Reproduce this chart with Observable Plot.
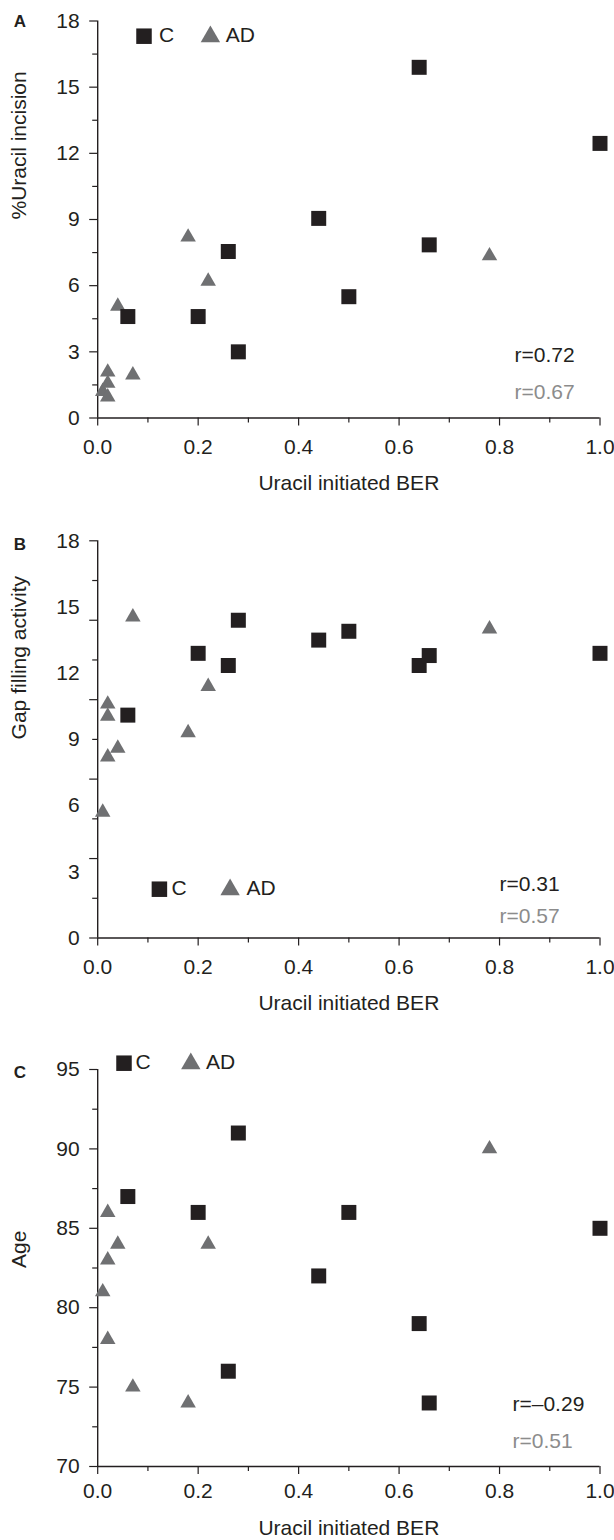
<!DOCTYPE html>
<html><head><meta charset="utf-8">
<script src="https://cdn.jsdelivr.net/npm/d3@7"></script>
<script src="https://cdn.jsdelivr.net/npm/@observablehq/plot@0.6"></script>
<style>
body{margin:0;background:#fff;}
#chart{width:614px;}
#chart svg{display:block;overflow:visible;}
</style></head><body><div id="chart"></div>
<script>
// ---- data ----
const adBER = [0.01, 0.02, 0.02, 0.02, 0.04, 0.07, 0.18, 0.22, 0.78];
const cBER  = [0.06, 0.20, 0.26, 0.28, 0.44, 0.50, 0.64, 0.66, 1.00];

const incisionAD = [1.2, 0.95, 1.57, 2.08, 5.07, 1.95, 8.2, 6.2, 7.35];
const incisionC  = [4.6, 4.6, 7.55, 3.0, 9.05, 5.5, 15.9, 7.85, 12.45];

const gapAD = [5.7, 8.2, 10.05, 10.6, 8.6, 14.55, 9.3, 11.4, 14.0];
const gapC  = [10.1, 12.9, 12.35, 14.4, 13.5, 13.9, 12.35, 12.8, 12.9];

const ageAD = [81, 78, 83, 86, 84, 75, 74, 84, 90];
const ageC  = [87, 86, 76, 91, 82, 86, 79, 74, 85];

const xDomain = [0, 1];
const xMajor = [0, 0.2, 0.4, 0.6, 0.8, 1.0];
const xMinor = [0.1, 0.3, 0.5, 0.7, 0.9];
const xTitle = "Uracil initiated BER";

const yDomainA = [0, 18];
const yLabelsA = [0, 3, 6, 9, 12, 15, 18];
const yMinorA  = [1.5, 4.5, 7.5, 10.5, 13.5, 16.5];

const yDomainB = [0, 18];
const yLabelsB = [0, 3, 6, 9, 12, 15, 18];
const yTickLongB  = [0, 3.6, 7.2, 10.8, 14.4, 18];
const yTickShortB = [1.8, 5.4, 9, 12.6, 16.2];

const yDomainC = [70, 95];
const yLabelsC = [70, 75, 80, 85, 90, 95];
const yMinorC  = [72.5, 77.5, 82.5, 87.5, 92.5];

const groups = ["C", "AD"];
const rA = ["r=0.72", "r=0.67"];
const rB = ["r=0.31", "r=0.57"];
const rC = ["r=\u20130.29", "r=0.51"];

// ---- styling ----
const FONT = "'Liberation Sans', Arial, Helvetica, sans-serif";
const INK = "#231f20", GREY = "#6f7072", RGREY = "#8c8c8c";

const pairs = (xs, ys) => xs.map((x, i) => ({x, y: ys[i]}));

function txt(s, o) {
  return Plot.text([s], Object.assign({text: d => d, fontSize: 21, fill: INK, lineAnchor: "middle"}, o));
}

function panel(o) {
  const marks = [
    Plot.ruleX([xDomain[0]], {stroke: INK, strokeWidth: 1.4}),
    Plot.ruleY([o.yDomain[0]], {stroke: INK, strokeWidth: 1.4}),
    Plot.axisX({ticks: xMajor, tickSize: 8, tickPadding: o.xPad, tickFormat: d => d.toFixed(1), label: null, stroke: INK, fill: INK, strokeWidth: 1.2}),
    Plot.axisX({ticks: xMinor, tickSize: 5, tickFormat: () => "", label: null, stroke: INK, strokeWidth: 1.2}),
    ...o.yAxes,
    Plot.dot(o.ad, {x: "x", y: "y", symbol: "triangle", r: 5.75, fill: GREY}),
    Plot.dot(o.c, {x: "x", y: "y", symbol: "square", r: 8.46, fill: INK}),
    // axis titles
    txt(xTitle, {frameAnchor: "bottom", dy: o.xTitleDy}),
    txt(o.yTitle, {frameAnchor: "left", dx: -78, rotate: -90}),
    // panel letter
    txt(o.letter, {frameAnchor: "top-left", dx: -84, dy: o.letterDy, textAnchor: "start", fontWeight: "bold", fontSize: 17}),
    // legend
    Plot.dot([0], {frameAnchor: o.legAnchor, dx: o.leg[0], dy: o.leg[1], symbol: "square", r: 8.75, fill: INK}),
    txt(groups[0], {frameAnchor: o.legAnchor, dx: o.leg[2], dy: o.leg[1] - 0.8, textAnchor: "start"}),
    Plot.dot([0], {frameAnchor: o.legAnchor, dx: o.leg[3], dy: o.leg[1] + 0.5, symbol: "triangle", r: 7.2, fill: GREY}),
    txt(groups[1], {frameAnchor: o.legAnchor, dx: o.leg[4], dy: o.leg[1] - 0.8, textAnchor: "start"}),
    // correlations
    txt(o.r[0], {frameAnchor: "bottom-left", dx: o.rDx, dy: o.rDy[0], textAnchor: "start"}),
    txt(o.r[1], {frameAnchor: "bottom-left", dx: o.rDx, dy: o.rDy[1], textAnchor: "start", fill: RGREY})
  ];
  return Plot.plot({
    width: 614, height: o.height,
    marginLeft: 97.2, marginRight: 14.5, marginTop: o.mt, marginBottom: o.mb,
    x: {domain: xDomain, label: null},
    y: {domain: o.yDomain, label: null},
    style: {fontFamily: FONT, fontSize: "21px", color: INK, background: "white", overflow: "visible"},
    marks
  });
}

function yAxesStd(labels, minor) {
  return [
    Plot.axisY({ticks: labels, tickSize: 8, tickPadding: 10, label: null, stroke: INK, fill: INK, strokeWidth: 1.2}),
    Plot.axisY({ticks: minor, tickSize: 5, tickFormat: () => "", label: null, stroke: INK, strokeWidth: 1.2})
  ];
}

const chart = document.getElementById("chart");

chart.append(panel({
  height: 520, mt: 20.5, mb: 102.5, yDomain: yDomainA,
  yAxes: yAxesStd(yLabelsA, yMinorA),
  ad: pairs(adBER, incisionAD), c: pairs(cBER, incisionC),
  xPad: 13.5, xTitleDy: 65, yTitle: "%Uracil incision", letter: "A", letterDy: 1,
  legAnchor: "top-left", leg: [46.3, 15.2, 61.3, 112.7, 128],
  r: rA, rDx: 416.8, rDy: [-62.5, -26]
}));

chart.append(panel({
  height: 519, mt: 20.3, mb: 101.5, yDomain: yDomainB,
  yAxes: [
    Plot.axisY({ticks: yLabelsB, tickSize: 0, tickPadding: 18, label: null, fill: INK}),
    Plot.axisY({ticks: yTickLongB, tickSize: 8, tickFormat: () => "", label: null, stroke: INK, strokeWidth: 1.2}),
    Plot.axisY({ticks: yTickShortB, tickSize: 5, tickFormat: () => "", label: null, stroke: INK, strokeWidth: 1.2})
  ],
  ad: pairs(adBER, gapAD), c: pairs(cBER, gapC),
  xPad: 13, xTitleDy: 65, yTitle: "Gap filling activity", letter: "B", letterDy: 4,
  legAnchor: "bottom-left", leg: [61.7, -48.8, 73.8, 132.4, 148.8],
  r: rB, rDx: 401.8, rDy: [-54, -22]
}));

chart.append(panel({
  height: 501, mt: 30, mb: 74, yDomain: yDomainC,
  yAxes: yAxesStd(yLabelsC, yMinorC),
  ad: pairs(adBER, ageAD), c: pairs(cBER, ageC),
  xPad: 9, xTitleDy: 62, yTitle: "Age", letter: "C", letterDy: 2.7,
  legAnchor: "top-left", leg: [26.3, -6.3, 37.7, 93.1, 108.4],
  r: rC, rDx: 414.8, rDy: [-62.5, -25.5]
}));
</script></body></html>
